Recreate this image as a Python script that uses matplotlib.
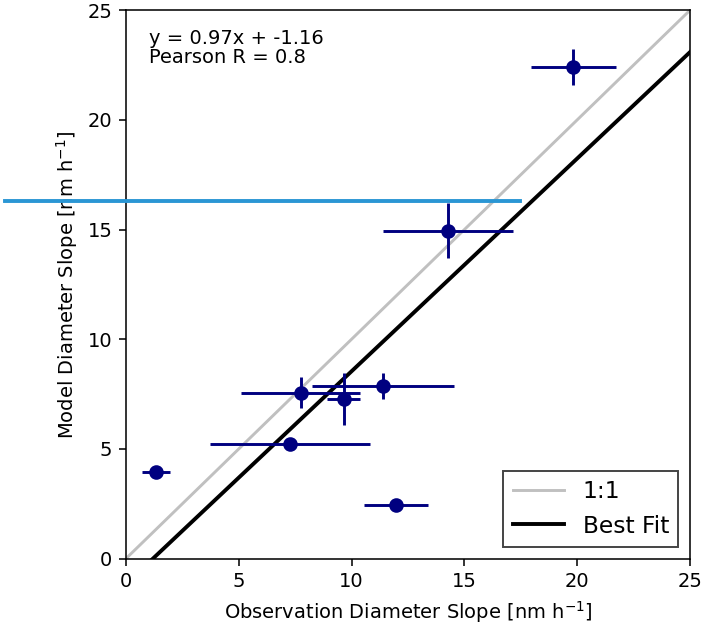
import matplotlib
matplotlib.use("Agg")
import matplotlib.pyplot as plt
import numpy as np

# Data
obs = [19.83, 14.25, 7.74, 9.64, 11.40, 7.27, 1.33, 11.97]
obs_err = [1.88, 2.88, 2.65, 0.71, 3.14, 3.55, 0.63, 1.43]
model = [22.42, 14.94, 7.56, 7.26, 7.86, 5.21, 3.94, 2.45]
model_err = [0.81, 1.26, 0.71, 1.18, 0.59, 0.2, 0.2, 0.2]

slope = 0.97
intercept = -1.16
pearson_r = 0.8

# stray horizontal line in the reference
hline_y = 16.28
hline_x = [-5.38, 17.48]

fig = plt.figure(figsize=(702 / 140, 634 / 140), dpi=140)
ax = fig.add_axes([0.1795, 0.119, 0.8035, 0.865])

xs = np.array([0, 25])
ax.plot(xs, xs, color="#c0c0c0", lw=1.5, label="1:1", zorder=1)
ax.plot(xs, slope * xs + intercept, color="black", lw=2, label="Best Fit", zorder=2)

ax.errorbar(obs, model, xerr=obs_err, yerr=model_err, fmt="o", color="navy",
            ecolor="navy", elinewidth=1.5, markersize=6.5, zorder=3)

ax.plot(hline_x, [hline_y, hline_y], color="#2a96d4", lw=2, clip_on=False, zorder=5)

ax.set_xlim(0, 25)
ax.set_ylim(0, 25)
ax.set_xticks([0, 5, 10, 15, 20, 25])
ax.set_yticks([0, 5, 10, 15, 20, 25])
ax.set_xlabel("Observation Diameter Slope [nm h$^{-1}$]")
ax.set_ylabel("Model Diameter Slope [nm h$^{-1}$]")

ax.text(0.04, 0.965, f"y = {slope}x + {intercept}\nPearson R = {pearson_r}",
        transform=ax.transAxes, va="top", ha="left", fontsize=10, linespacing=0.95)

leg = ax.legend(loc="lower right", fontsize=12, fancybox=False, edgecolor="#444444",
                framealpha=1, handlelength=2.2)
leg.get_frame().set_linewidth(1.0)

fig.savefig("out.png", dpi=140)
